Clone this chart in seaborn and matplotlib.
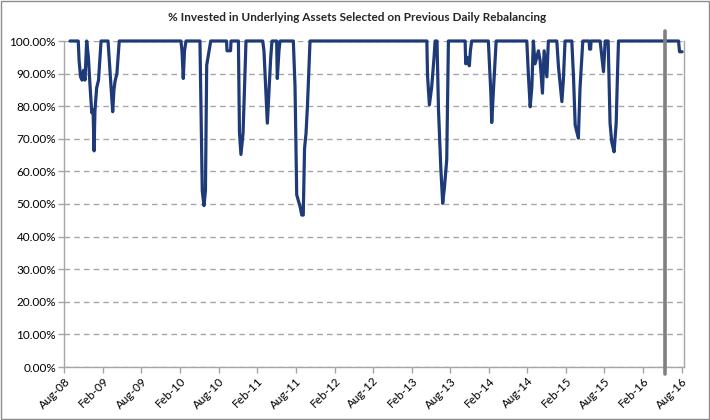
import pandas as pd
import numpy as np
import seaborn as sns
import matplotlib
matplotlib.use('Agg')
import matplotlib.pyplot as plt
import matplotlib.dates as mdates
from matplotlib.ticker import PercentFormatter, MultipleLocator
from matplotlib.patches import Rectangle

# values (turning points of the daily series)
dates = ['2008-08-28', '2008-10-06', '2008-10-10', '2008-10-17', '2008-10-24', '2008-10-31',
         '2008-11-07', '2008-11-15', '2008-11-23', '2008-12-01', '2008-12-09', '2008-12-15',
         '2008-12-20', '2008-12-24', '2009-01-01', '2009-01-10', '2009-01-17', '2009-01-22',
         '2009-02-24', '2009-03-05', '2009-03-18', '2009-03-24', '2009-03-29', '2009-04-07',
         '2009-04-18', '2010-02-04', '2010-02-09', '2010-02-15', '2010-02-21', '2010-02-28',
         '2010-05-05', '2010-05-16', '2010-05-24', '2010-05-31', '2010-06-06', '2010-06-12',
         '2010-06-25', '2010-09-08', '2010-09-10', '2010-09-27', '2010-09-29', '2010-11-03',
         '2010-11-08', '2010-11-15', '2010-11-25', '2010-12-09', '2011-02-26', '2011-03-04',
         '2011-03-14', '2011-03-20', '2011-03-29', '2011-04-05', '2011-04-11', '2011-05-03',
         '2011-05-06', '2011-05-14', '2011-05-19', '2011-07-21', '2011-07-29', '2011-08-06',
         '2011-08-22', '2011-08-30', '2011-09-06', '2011-09-12', '2011-09-19', '2011-09-26',
         '2011-10-08', '2013-04-13', '2013-04-16', '2013-04-25', '2013-05-06', '2013-05-17',
         '2013-05-22', '2013-05-31', '2013-06-07', '2013-06-18', '2013-06-27', '2013-07-05',
         '2013-07-16', '2013-07-24', '2013-10-11', '2013-10-14', '2013-10-20', '2013-10-31',
         '2013-11-05', '2013-11-11', '2014-01-29', '2014-02-10', '2014-02-14', '2014-02-23',
         '2014-03-07', '2014-07-30', '2014-08-07', '2014-08-15', '2014-08-23', '2014-08-30',
         '2014-09-07', '2014-09-23', '2014-10-01', '2014-10-12', '2014-10-20', '2014-11-02',
         '2014-11-09', '2014-12-19', '2014-12-27', '2015-01-12', '2015-01-19', '2015-01-27',
         '2015-02-28', '2015-03-08', '2015-03-16', '2015-03-31', '2015-04-08', '2015-04-21',
         '2015-05-21', '2015-05-23', '2015-05-28', '2015-05-30', '2015-07-12', '2015-07-28',
         '2015-08-05', '2015-08-19', '2015-08-28', '2015-09-05', '2015-09-16', '2015-09-26',
         '2015-10-02', '2015-10-07', '2016-07-17', '2016-07-22', '2016-08-03']
invested = [100, 100, 94, 89, 88, 91,
            88, 100, 95, 86, 78, 79,
            66.3, 78.5, 85.6, 88, 95, 100,
            100, 91, 78.3, 85, 87.6, 90,
            100, 100, 97, 88.5, 97, 100,
            100, 54, 49.5, 54, 92.6, 95,
            100, 100, 97, 97, 100, 100,
            72, 65.2, 71.6, 100, 100, 97,
            83.4, 74.8, 86, 95, 100, 100,
            88.5, 97, 100, 100, 86, 52.8,
            49.2, 46.6, 46.6, 67, 71.6, 80.4,
            100, 100, 89.5, 80.4, 86, 95,
            100, 100, 79, 61, 50.2, 55,
            63.5, 100, 100, 93, 95, 92.4,
            97, 100, 100, 83.8, 75, 86,
            100, 100, 89, 79.8, 86, 100,
            93, 97, 94, 84, 97, 89,
            100, 100, 92, 81.4, 88, 100,
            100, 89, 74.2, 70.2, 85.7, 100,
            100, 97.5, 97.5, 100, 100, 90.6,
            100, 100, 74.8, 69, 66, 74.8,
            89.4, 100, 100, 96.7, 96.7]
marker_date = '2016-05-14'

df = pd.DataFrame({'date': pd.to_datetime(dates), 'invested': invested})

sns.set_style('white')
plt.rcParams['font.family'] = ['Lato', 'DejaVu Sans']

fig = plt.figure(figsize=(7.1, 4.2), dpi=100)
ax = fig.add_axes([64.3 / 710, 53 / 420, 619.7 / 710, 326 / 420])

sns.lineplot(data=df, x='date', y='invested', color='#1F3A78', lw=2.3, ax=ax, clip_on=False, zorder=3)
ax.axvline(pd.Timestamp(marker_date), ymin=-0.022, ymax=1.03, color='#808080', lw=2.6,
           clip_on=False, zorder=4)

ax.set_ylim(0, 100)
ax.set_xlim(pd.Timestamp('2008-08-01'), pd.Timestamp('2016-08-12'))
ax.yaxis.set_major_locator(MultipleLocator(10))
ax.yaxis.set_major_formatter(PercentFormatter(decimals=2))
ax.xaxis.set_major_locator(mdates.MonthLocator(bymonth=[2, 8]))
ax.xaxis.set_major_formatter(mdates.DateFormatter('%b-%y'))
ax.grid(axis='y', ls=(0, (4, 3)), color='#A6A6A6', lw=1)
ax.grid(axis='x', visible=False)
ax.set_xlabel('')
ax.set_ylabel('')

for side in ['left', 'bottom', 'right']:
    ax.spines[side].set_color('#A6A6A6')
    ax.spines[side].set_linewidth(1)
ax.spines['top'].set_visible(False)

ax.tick_params(axis='both', direction='out', length=4, width=1, color='#A6A6A6',
               labelsize=8.5, labelcolor='#000000', pad=2)
ax.tick_params(axis='y', left=True)
ax.tick_params(axis='x', bottom=True)
plt.setp(ax.get_xticklabels(), rotation=45, ha='right', rotation_mode='anchor')

fig.text(0.503, 0.958, '% Invested in Underlying Assets Selected on Previous Daily Rebalancing',
         ha='center', va='center', fontsize=8.5, fontweight='bold')

fig.patches.append(Rectangle((0.001, 0.002), 0.997, 0.995, transform=fig.transFigure,
                             fill=False, ec='#8C8C8C', lw=1))

fig.savefig('out.png', dpi=100)
